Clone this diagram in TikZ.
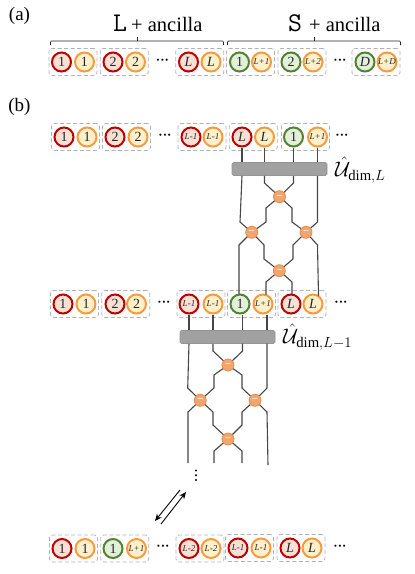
\documentclass[tikz,border=0pt]{standalone}
\usepackage{fix-cm}
\usepackage{fontspec}
\usepackage{amsmath}
\setmainfont{Liberation Serif}
\usetikzlibrary{arrows.meta}
\definecolor{cred}{HTML}{C00000}
\definecolor{fred}{HTML}{F8E0D4}
\definecolor{cor}{HTML}{F79B3E}
\definecolor{for}{HTML}{FFF0CC}
\definecolor{cgr}{HTML}{548235}
\definecolor{fgr}{HTML}{E2EFD9}
\definecolor{xfill}{HTML}{F2A66F}
\definecolor{xline}{HTML}{E58C4E}
\tikzset{
  qbit/.style={circle,minimum size=19pt,inner sep=0pt,line width=2pt,font=\fontsize{14}{14}\selectfont,text=black!85},
  redq/.style={qbit,draw=cred,fill=fred},
  orq/.style={qbit,draw=cor,fill=for},
  grq/.style={qbit,draw=cgr,fill=fgr},
  cellbox/.style={draw=black!30,dashed,dash pattern=on 4pt off 2.5pt,rounded corners=3pt,line width=0.8pt,minimum width=48pt,minimum height=27pt,inner sep=0pt},
  gatebar/.style={draw=black!42,fill=black!37,rounded corners=1.5pt,line width=0.6pt,minimum height=13pt,minimum width=95pt,inner sep=0pt},
  cross/.style={circle,draw=xline,fill=xfill,line width=0.8pt,minimum size=12pt,inner sep=0pt,text=white,font=\bfseries\fontsize{10}{10}\selectfont},
  wire/.style={draw=black!72,line width=1.1pt},
  brace/.style={draw=black!85,line width=0.7pt},
  moredots/.style={font=\bfseries\fontsize{13}{13}\selectfont,inner sep=0pt},
  plabel/.style={font=\fontsize{19}{21}\selectfont,inner sep=0pt},
  headtxt/.style={font=\fontsize{20.5}{22}\selectfont,inner sep=0pt,anchor=west},
  headtt/.style={font=\ttfamily\fontsize{27}{28}\selectfont,inner sep=0pt},
  ulabel/.style={font=\fontsize{21}{23}\selectfont,inner sep=0pt,anchor=west},
  arr/.style={-{Stealth[length=7pt,width=6pt]},black,line width=0.9pt}
}
\newcommand{\sm}[1]{\fontsize{9}{9}\selectfont\textit{#1}}
\newcommand{\itx}[1]{\textit{#1}}
% name, x1, x2, y, style of first, text1, text2
\newcommand{\cellpair}[7]{%
  \node[cellbox] (#1box) at ({(#2+#3)/2},#4) {};
  \node[#5] (#1a) at (#2,#4) {#6};
  \node[orq] (#1b) at (#3,#4) {#7};
}
\begin{document}
\begin{tikzpicture}[x=1pt,y=-1pt]
\useasboundingbox (0,0) rectangle (415,574);
\node[plabel] (la) at (19.5,16) {(a)};
\node[plabel] (lb) at (19.5,107) {(b)};
% row a
\cellpair{aA}{61.5}{84.5}{62}{redq}{1}{1}
\cellpair{aB}{113}{135.5}{62}{redq}{2}{2}
\cellpair{aC}{188.5}{211}{62}{redq}{\itx{L}}{\itx{L}}
\cellpair{aD}{239.5}{261.5}{62}{grq}{1}{\sm{L+1}}
\cellpair{aE}{291}{313}{62}{grq}{2}{\sm{L+2}}
\cellpair{aF}{365}{387}{62}{grq}{\itx{D}}{\sm{L+D}}
\node[moredots] (ad1) at (162.5,62) {···};
\node[moredots] (ad2) at (340,62) {···};
\node[headtt] (hL) at (120,23) {L};
\node[headtxt] (hLt) at (131,24) {+ ancilla};
\node[headtt] (hS) at (295,23) {S};
\node[headtxt] (hSt) at (309,24) {+ ancilla};
\draw[brace,rounded corners=1pt] (50.5,45) -- (50.5,41) -- (223.5,41) -- (223.5,45);
\draw[brace] (137,41) -- (137,37);
\draw[brace,rounded corners=1pt] (227.5,45) -- (227.5,41) -- (400.5,41) -- (400.5,45);
\draw[brace] (314,41) -- (314,37);
% row b1
\cellpair{bA}{64}{87}{137}{redq}{1}{1}
\cellpair{bB}{115}{138}{137}{redq}{2}{2}
\cellpair{bC}{191}{213}{137}{redq}{\sm{L-1}}{\sm{L-1}}
\cellpair{bD}{242}{264.5}{137}{redq}{\itx{L}}{\itx{L}}
\cellpair{bE}{293.5}{317.5}{137}{grq}{1}{\sm{L+1}}
\node[moredots] (bd1) at (165,137) {···};
\node[moredots] (bd2) at (342,137) {···};
\node[gatebar] (barA) at (279.5,169) {};
\node[ulabel] (uA) at (335,170) {$\hat{\mathcal{U}}_{\mathrm{dim},L}$};
% row b2
\cellpair{cA}{63}{86}{304}{redq}{1}{1}
\cellpair{cB}{115}{136.5}{304}{redq}{2}{2}
\cellpair{cC}{189}{213}{304}{redq}{\sm{L-1}}{\sm{L-1}}
\cellpair{cD}{240}{263}{304}{grq}{1}{\sm{L+1}}
\cellpair{cE}{291}{313}{304}{redq}{\itx{L}}{\itx{L}}
\node[moredots] (cd1) at (164,304) {···};
\node[moredots] (cd2) at (341,304) {···};
\node[gatebar] (barB) at (227.5,337) {};
\node[ulabel] (uB) at (283,337) {$\hat{\mathcal{U}}_{\mathrm{dim},L-1}$};
% row b3
\cellpair{dA}{62}{85}{548.5}{redq}{1}{1}
\cellpair{dB}{113}{136.5}{548.5}{grq}{1}{\sm{L+1}}
\cellpair{dC}{189}{211}{548.5}{redq}{\sm{L-2}}{\sm{L-2}}
\cellpair{dD}{238}{261}{548}{redq}{\sm{L-1}}{\sm{L-1}}
\cellpair{dE}{290}{312}{548}{redq}{\itx{L}}{\itx{L}}
\node[moredots] (dd1) at (163,548) {···};
\node[moredots] (dd2) at (340,548) {···};
% wires, first network
\coordinate (x1) at (279.5,196.7);
\coordinate (x2) at (251.7,232.3);
\coordinate (x3) at (306,232.3);
\coordinate (x4) at (279.3,270.7);
\draw[wire] (bDa.south) -- (bDa.south |- barA.north);
\draw[wire] (bDb.south) -- (bDb.south |- barA.north);
\draw[wire] (bEa.south) -- (bEa.south |- barA.north);
\draw[wire] (bEb.south) -- (bEb.south |- barA.north);
\draw[wire] (bDa.south |- barA.south) -- (240,222) -- (x2);
\draw[wire] (bDb.south |- barA.south) -- (264.5,183) -- (x1);
\draw[wire] (bEa.south |- barA.south) -- (293.5,183) -- (x1);
\draw[wire] (bEb.south |- barA.south) -- (317.5,222) -- (x3);
\draw[wire] (x1) -- (266,208) -- (266,222) -- (x2);
\draw[wire] (x1) -- (292,208) -- (292,222) -- (x3);
\draw[wire] (x2) -- (239,245) -- (239,294);
\draw[wire] (x2) -- (264,245) -- (264,259) -- (x4);
\draw[wire] (x3) -- (293,245) -- (293,259) -- (x4);
\draw[wire] (x3) -- (317.5,245) -- (318.5,296);
\draw[wire] (x4) -- (266,282) -- (266,294.7) ;
\draw[wire] (x4) -- (292,282) -- (292,294.7);
% crossings, first network
\node[cross] (cx1) at (x1) {–};
\node[cross] (cx2) at (x2) {–};
\node[cross] (cx3) at (x3) {–};
\node[cross] (cx4) at (x4) {–};
% wires, second network
\coordinate (y1) at (228,365);
\coordinate (y2) at (200.3,400.3);
\coordinate (y3) at (255,400.3);
\coordinate (y4) at (228,439);
\coordinate (e1) at (188,463);
\coordinate (e2) at (214,463);
\coordinate (e3) at (242,463);
\coordinate (e4) at (268,465);
\draw[wire] (cCa.south) -- (cCa.south |- barB.north);
\draw[wire] (cCb.south) -- (cCb.south |- barB.north);
\draw[wire] ([xshift=2.5pt]cDa.south) -- ([xshift=2.5pt]cDa.south |- barB.north);
\draw[wire] ([xshift=4pt]cDb.south) -- ([xshift=4pt]cDb.south |- barB.north);
\draw[wire] (cCa.south |- barB.south) -- (187.7,388) -- (y2);
\draw[wire] (cCb.south |- barB.south) -- (213,351) -- (y1);
\draw[wire] (242.5,343.5) -- (242.5,351) -- (y1);
\draw[wire] (267,343.5) -- (267,388) -- (y3);
\draw[wire] (y1) -- (214,375) -- (214,388) -- (y2);
\draw[wire] (y1) -- (242,375) -- (242,388) -- (y3);
\draw[wire] (y2) -- (188,412) -- (e1);
\draw[wire] (y2) -- (213,412) -- (213,425) -- (y4);
\draw[wire] (y3) -- (242,412) -- (242,425) -- (y4);
\draw[wire] (y3) -- (267,412) -- (e4);
\draw[wire] (y4) -- (214,451) -- (e2);
\draw[wire] (y4) -- (242,451) -- (e3);
% crossings, second network
\node[cross] (cy1) at (y1) {–};
\node[cross] (cy2) at (y2) {–};
\node[cross] (cy3) at (y3) {–};
\node[cross] (cy4) at (y4) {–};
% vertical dots
\foreach \i/\yy in {1/470.5,2/475.2,3/480}
  \fill[black] (196,\yy) circle (1.1pt);
% arrows
\coordinate (p1) at (180,490);
\coordinate (p2) at (155,521);
\coordinate (p3) at (161,524);
\coordinate (p4) at (186,492);
\draw[arr] (p1) -- (p2);
\draw[arr] (p3) -- (p4);
\end{tikzpicture}
\end{document}
